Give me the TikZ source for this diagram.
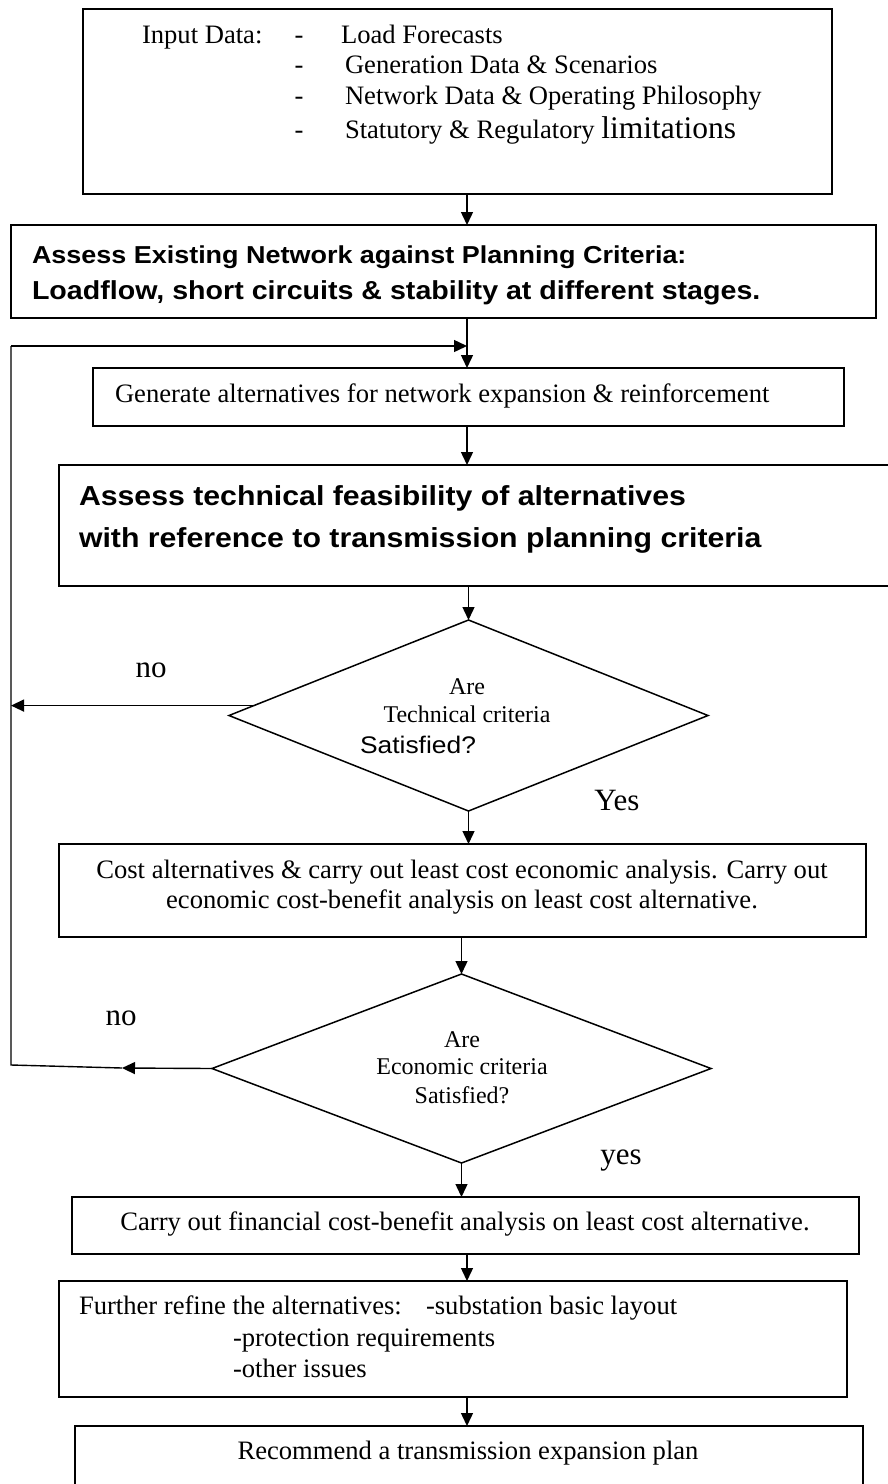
\documentclass[tikz,border=0pt]{standalone}
\usepackage{fontspec}
\setmainfont{Liberation Serif}
\newfontfamily\hsans[FakeStretch=1.1]{Liberation Sans}
\usetikzlibrary{arrows.meta,shapes.geometric,calc}
\begin{document}
\begin{tikzpicture}[x=1pt,y=-1pt,
 box/.style={draw, line width=1.6pt, inner sep=0pt, outer sep=0pt, anchor=north west},
 tx/.style={inner sep=0pt, outer sep=0pt, text height=18pt, text depth=5pt, font=\fontsize{26.6}{30}\selectfont},
 bigb/.style={tx, font=\hsans\bfseries\fontsize{27.5}{32}\selectfont, text height=20pt, text depth=6pt},
 midb/.style={tx, font=\hsans\bfseries\fontsize{24.5}{30}\selectfont},
 dtx/.style={tx, font=\fontsize{24}{28}\selectfont, text height=17pt, text depth=5pt},
 lab/.style={tx, font=\fontsize{31}{34}\selectfont, text height=21pt, text depth=6pt},
 arr/.style={line width=1.4pt, -{Triangle[length=13pt,width=12pt]}},
 ln/.style={line width=1.4pt},
 dia/.style={draw, diamond, line width=1.5pt, inner sep=0pt, outer sep=0pt}]
\useasboundingbox (0,0) rectangle (888,1484);

% boxes
\node[box, minimum width=749pt, minimum height=185pt] (b1) at (83,9) {};
\node[box, minimum width=865pt, minimum height=93pt] (b2) at (11,225) {};
\node[box, minimum width=751pt, minimum height=58pt] (b3) at (93,368) {};
\node[box, minimum width=850pt, minimum height=121pt] (b4) at (59,465) {};
\node[box, minimum width=807pt, minimum height=93pt] (b5) at (59,844) {};
\node[box, minimum width=787pt, minimum height=57pt] (b6) at (72,1197) {};
\node[box, minimum width=788pt, minimum height=116pt] (b7) at (59,1281) {};
\node[box, minimum width=788pt, minimum height=80pt] (b8) at (75,1426) {};

% diamonds
\node[dia, minimum width=479pt, minimum height=191pt] (d1) at (468.5,715.5) {};
\node[dia, minimum width=499pt, minimum height=189pt] (d2) at (461.5,1068.5) {};

% box 1 text
\node[tx, anchor=west] (inA) at (142,37) {Input Data:};
\node[tx] (da1) at (299,37) {-};
\node[tx] (da2) at (299,67) {-};
\node[tx] (da3) at (299,98) {-};
\node[tx] (da4) at (299,132) {-};
\node[tx, anchor=west] (i1) at (341,37) {Load Forecasts};
\node[tx, anchor=west] (i2) at (345,67) {Generation Data \& Scenarios};
\node[tx, anchor=west] (i3) at (345,98) {Network Data \& Operating Philosophy};
\node[tx, anchor=west] (i4) at (345,132) {Statutory \& Regulatory {\fontsize{31.5}{34}\selectfont limitations}};

% box 2 text
\node[midb, anchor=west] (t2a) at (32,257) {Assess Existing Network against Planning Criteria:};
\node[midb, anchor=west, font=\hsans\bfseries\fontsize{26}{30}\selectfont] (t2b) at (32,293) {Loadflow, short circuits \& stability at different stages.};

% box 3 text
\node[tx, anchor=west] (t3) at (115,396) {Generate alternatives for network expansion \& reinforcement};

% box 4 text
\node[bigb, anchor=west] (t4a) at (79,498) {Assess technical feasibility of alternatives};
\node[bigb, anchor=west] (t4b) at (79,540) {with reference to transmission planning criteria};

% diamond 1 text
\node[dtx] (q1a) at (467,688) {Are};
\node[dtx] (q1b) at (467,716) {Technical criteria};
\node[dtx, font=\hsans\fontsize{24}{28}\selectfont] (q1c) at (418,747) {Satisfied?};

% box 5 text
\node[tx] (t5a) at (462,872) {Cost alternatives \& carry out least cost economic analysis. Carry out};
\node[tx] (t5b) at (462,902) {economic cost-benefit analysis on least cost alternative.};

% diamond 2 text
\node[dtx] (q2a) at (462,1041) {Are};
\node[dtx] (q2b) at (462,1068) {Economic criteria};
\node[dtx] (q2c) at (462,1097) {Satisfied?};

% box 6 text
\node[tx] (t6) at (465,1224) {Carry out financial cost-benefit analysis on least cost alternative.};

% box 7 text
\node[tx, anchor=west] (t7a) at (79,1308) {Further refine the alternatives:};
\node[tx, anchor=west] (t7b) at (426,1308) {-substation basic layout};
\node[tx, anchor=west] (t7c) at (233,1340) {-protection requirements};
\node[tx, anchor=west] (t7d) at (233,1371) {-other issues};

% box 8 text
\node[tx] (t8) at (468,1453) {Recommend a transmission expansion plan};

% labels
\node[lab] (no1) at (151,670) {no};
\node[lab] (yes1) at (617,803) {Yes};
\node[lab] (no2) at (121,1018) {no};
\node[lab] (yes2) at (621,1157) {yes};

% connectors
\coordinate (ax) at (467,0);
\coordinate (lx) at (11,0);
\draw[arr] (b1.south -| ax) -- (b2.north -| ax);
\draw[arr] (b2.south -| ax) -- (b3.north -| ax);
\draw[arr] (b3.south -| ax) -- (b4.north -| ax);
\draw[arr] (b4.south -| d1.north) -- (d1.north);
\draw[arr] (d1.south) -- (d1.south |- b5.north);
\draw[arr] (b5.south -| d2.north) -- (d2.north);
\draw[arr] (d2.south) -- (d2.south |- b6.north);
\draw[arr] (b6.south -| ax) -- (b7.north -| ax);
\draw[arr] (b7.south -| ax) -- (b8.north -| ax);

% no loops
\coordinate (n1s) at ($(d1.west)!0.104!(d1.north)$);
\draw[arr] (n1s) -- (n1s -| lx);
\coordinate (n2e) at (122,1068);
\draw[arr] (d2.west) -- (n2e);
\coordinate (lb) at (11,1065);
\coordinate (lt) at (11,346);
\draw[ln, line join=miter] (n2e) -- (lb) -- (lt);
\draw[arr] (lt) -- (lt -| ax);
\end{tikzpicture}
\end{document}
